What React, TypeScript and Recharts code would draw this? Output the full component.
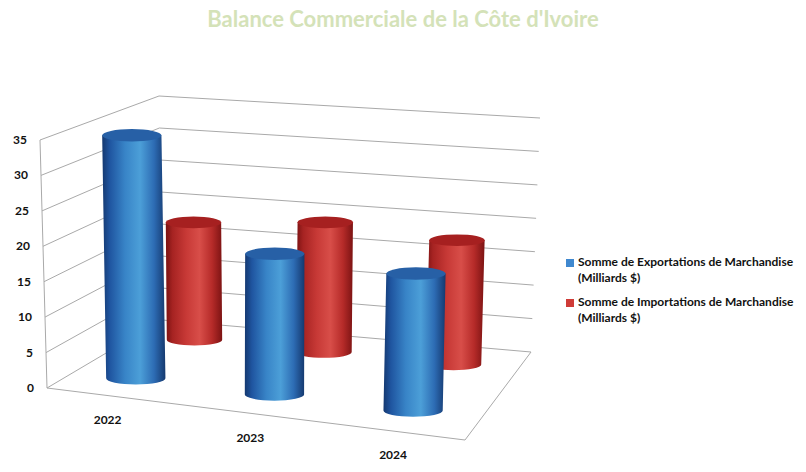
import React from "react";
import { BarChart, Bar, XAxis, YAxis, CartesianGrid } from "recharts";

const CATEGORIES = ["2022", "2023", "2024"];
const EXPORTS = [34.9, 19.9, 19.1];
const IMPORTS = [17.8, 19.4, 18.3];
const Y_TICKS = [0, 5, 10, 15, 20, 25, 30, 35];
const SERIES_NAMES = [
  "Somme de Exportations de Marchandise (Milliards $)",
  "Somme de Importations de Marchandise (Milliards $)",
];
const SERIES_COLORS = ["#3f88cf", "#cf3b37"];

const data = CATEGORIES.map((year, i) => ({
  year,
  exports: EXPORTS[i],
  imports: IMPORTS[i],
}));

// flat plot area (margin + axis sizes), mapped onto the 3D box below
const W = 806;
const H = 472;
const MARGIN = { top: 100, right: 306, left: 80, bottom: 52 };
const PL = 100;
const PB = 400;
const PW = 400;
const PH = 300;
const U_SCALE = 1.0245;
const U_OFF = -0.021;

type Pt = [number, number];

// bilinear patch: u along categories, v into depth
function makeQuad(p0: Pt, p1: Pt, p2: Pt, p3: Pt) {
  return (u: number, v: number): Pt => {
    const fx = p0[0] + (p1[0] - p0[0]) * u;
    const fy = p0[1] + (p1[1] - p0[1]) * u;
    const bx = p3[0] + (p2[0] - p3[0]) * u;
    const by = p3[1] + (p2[1] - p3[1]) * u;
    return [fx + (bx - fx) * v, fy + (by - fy) * v];
  };
}

const floor = makeQuad([47, 388], [465, 440], [531, 352], [162, 320]);
const ceil = makeQuad([40, 140], [472, 181], [540, 118], [159, 96]);

function project(u: number, v: number, t: number): Pt {
  const a = floor(u, v);
  const b = ceil(u, v);
  return [a[0] + (b[0] - a[0]) * t, a[1] + (b[1] - a[1]) * t];
}

const toU = (x: number) => ((x - PL) / PW) * U_SCALE + U_OFF;
const toT = (y: number) => (PB - y) / PH;
const pts = (list: Pt[]) =>
  list.map((p, i) => `${i ? "L" : "M"}${p[0].toFixed(1)},${p[1].toFixed(1)}`).join(" ");

const GRID = "#a9a9a9";

function WallLine(props: any) {
  const t = toT(props.y1);
  const isBottom = Math.abs(t) < 0.001;
  const isTop = Math.abs(t - 1) < 0.001;
  return (
    <g>
      <path d={pts([project(0, 0, t), project(0, 1, t), project(1, 1, t)])} stroke={GRID} fill="none" />
      {isBottom && (
        <path d={pts([project(0, 0, 0), project(1, 0, 0), project(1, 1, 0)])} stroke={GRID} fill="none" />
      )}
      {isTop && <path d={pts([project(0, 0, 0), project(0, 0, 1)])} stroke={GRID} fill="none" />}
    </g>
  );
}

const TONES: Record<string, { stops: [number, string][]; top: string }> = {
  blue: {
    stops: [
      [0, "#143870"],
      [0.12, "#1f55a0"],
      [0.36, "#3884c7"],
      [0.6, "#4c9fd8"],
      [0.82, "#2d6cb4"],
      [1, "#15396f"],
    ],
    top: "#2760a6",
  },
  red: {
    stops: [
      [0, "#7a1212"],
      [0.12, "#a62322"],
      [0.36, "#c73936"],
      [0.6, "#d84e49"],
      [0.82, "#b62b29"],
      [1, "#7c1313"],
    ],
    top: "#a62020",
  },
};

function Cylinder(props: any) {
  const { x, y, width, height, depth, tone, index } = props;
  if (!height) return null;
  const u = toU(x + width / 2);
  const du = (width / PW) * U_SCALE;
  const t = toT(y);
  const B = project(u, depth, 0);
  const T = project(u, depth, t);
  const rx = (project(u + du / 2, depth, 0)[0] - project(u - du / 2, depth, 0)[0]) / 2;
  const ry = rx * 0.21;
  const id = `cyl-${tone}-${index}`;
  const body =
    `M${T[0] - rx},${T[1]} L${B[0] - rx},${B[1]} ` +
    `A${rx},${ry} 0 0 0 ${B[0] + rx},${B[1]} L${T[0] + rx},${T[1]} Z`;
  return (
    <g>
      <defs>
        <linearGradient id={id} x1="0" y1="0" x2="1" y2="0">
          {TONES[tone].stops.map(([o, c]) => (
            <stop key={o} offset={o} stopColor={c} />
          ))}
        </linearGradient>
      </defs>
      <path d={body} fill={`url(#${id})`} />
      <ellipse cx={T[0]} cy={T[1]} rx={rx} ry={ry} fill={TONES[tone].top} />
    </g>
  );
}

const FONT = "Lato, 'Open Sans', sans-serif";

function YTick(props: any) {
  const t = toT(props.y);
  const [px, py] = project(0, 0, t);
  return (
    <text x={px - 13} y={py + 4} textAnchor="end" fontFamily={FONT} fontWeight={700} fontSize={12} fill="#111">
      {props.payload.value}
    </text>
  );
}

function XTick(props: any) {
  const u = toU(props.x);
  const [px, py] = project(u, 0, 0);
  return (
    <text x={px - 2} y={py + 28} textAnchor="middle" fontFamily={FONT} fontWeight={700} fontSize={12} fill="#111">
      {props.payload.value}
    </text>
  );
}

export default function App() {
  return (
    <div style={{ position: "absolute", left: 0, top: 0, width: W, height: H, background: "#fff" }}>
      <div
        style={{
          position: "absolute",
          top: 6,
          left: 0,
          width: W,
          textAlign: "center",
          fontFamily: FONT,
          fontWeight: 700,
          fontSize: 22,
          lineHeight: "26px",
          color: "#d4e2b8",
        }}
      >
        Balance Commerciale de la Côte d'Ivoire
      </div>
      <BarChart width={W} height={H} data={data} margin={MARGIN}>
        <CartesianGrid vertical={false} horizontal={(p: any) => <WallLine key={p.key} {...p} />} />
        <YAxis
          domain={[0, 35]}
          ticks={Y_TICKS}
          width={20}
          axisLine={false}
          tickLine={false}
          tick={<YTick />}
        />
        <XAxis
          xAxisId="front"
          dataKey="year"
          height={20}
          axisLine={false}
          tickLine={false}
          tick={<XTick />}
        />
        <XAxis xAxisId="back" dataKey="year" hide />
        <Bar
          xAxisId="back"
          dataKey="imports"
          name={SERIES_NAMES[1]}
          barSize={57}
          isAnimationActive={false}
          shape={(p: any) => <Cylinder {...p} depth={0.79} tone="red" />}
        />
        <Bar
          xAxisId="front"
          dataKey="exports"
          name={SERIES_NAMES[0]}
          barSize={57}
          isAnimationActive={false}
          shape={(p: any) => <Cylinder {...p} depth={0.245} tone="blue" />}
        />
      </BarChart>
      <div style={{ position: "absolute", left: 566, top: 254, fontFamily: FONT, fontWeight: 700, fontSize: 12 }}>
        {SERIES_NAMES.map((name, i) => {
          const cut = name.indexOf(" (");
          return (
            <div key={name} style={{ display: "flex", marginBottom: 8, lineHeight: "16px", color: "#111" }}>
              <span
                style={{ width: 8, height: 8, marginTop: 5, marginRight: 4, background: SERIES_COLORS[i], flex: "none" }}
              />
              <span>
                {name.slice(0, cut)}
                <br />
                {name.slice(cut + 1)}
              </span>
            </div>
          );
        })}
      </div>
    </div>
  );
}
